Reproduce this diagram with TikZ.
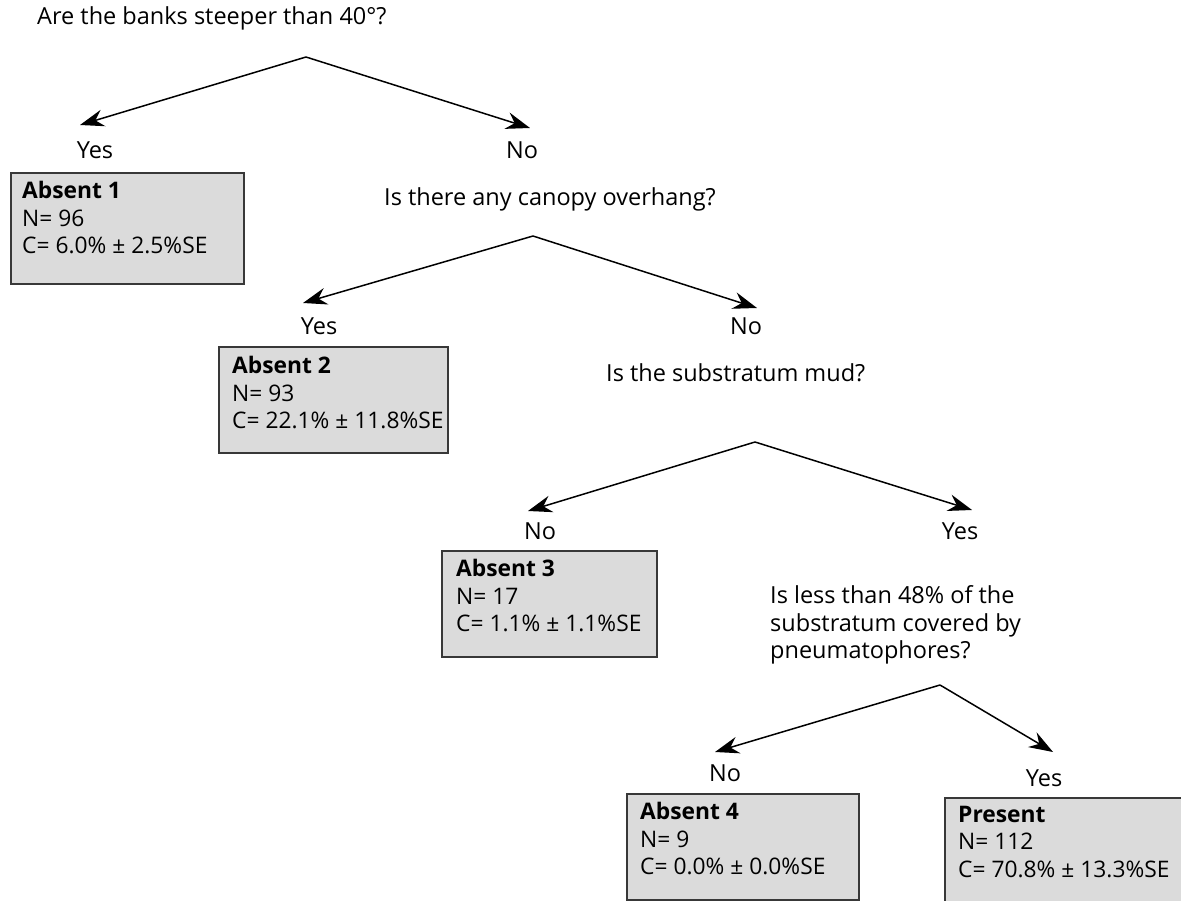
\documentclass[tikz,border=0pt]{standalone}
\usepackage{fontspec}
\setmainfont{Open Sans}
\usetikzlibrary{arrows.meta}
\begin{document}
\begin{tikzpicture}[x=1pt,y=-1pt,
  every node/.style={font=\fontsize{23.5}{27.5}\selectfont, inner sep=0pt},
  q/.style={anchor=west},
  lbl/.style={anchor=center},
  leaf/.style={draw=black!78, line width=2.3pt, fill=black!14, anchor=north west},
  leaftext/.style={anchor=north west, align=left, font=\fontsize{22.8}{27.5}\selectfont},
  qtext/.style={anchor=west, align=left},
  arr/.style={line width=1.5pt, -{Stealth[length=24pt,width=17pt,inset=8pt]}}]
\useasboundingbox (0,0) rectangle (1181,901);
\clip (0,0) rectangle (1181,901);

% level 1
\node[q] (q1) at (37,18) {Are the banks steeper than 40°?};
\coordinate (a1) at (306,57);
\coordinate (t1l) at (80,125);
\coordinate (t1r) at (530,128);
\draw[arr] (a1) -- (t1l);
\draw[arr] (a1) -- (t1r);
\node[lbl] (y1) at (95,150) {Yes};
\node[lbl] (n1) at (522,150) {No};
\node[leaf, minimum width=233, minimum height=111] (b1) at (10,172) {};
\node[leaftext] (b1t) at (22,181) {\textbf{Absent 1}\\N= 96\\C= 6.0\% ± 2.5\%SE};

% level 2
\node[q] (q2) at (384,199) {Is there any canopy overhang?};
\coordinate (a2) at (533,236);
\coordinate (t2l) at (303,303);
\coordinate (t2r) at (757,308);
\draw[arr] (a2) -- (t2l);
\draw[arr] (a2) -- (t2r);
\node[lbl] (y2) at (319,326) {Yes};
\node[lbl] (n2) at (746,326) {No};
\node[leaf, minimum width=229, minimum height=106] (b2) at (218,346) {};
\node[leaftext] (b2t) at (232,356) {\textbf{Absent 2}\\N= 93\\C= 22.1\% ± 11.8\%SE};

% level 3
\node[q] (q3) at (606,373) {Is the substratum mud?};
\coordinate (a3) at (755,442);
\coordinate (t3l) at (528,511);
\coordinate (t3r) at (972,510);
\draw[arr] (a3) -- (t3l);
\draw[arr] (a3) -- (t3r);
\node[lbl] (n3) at (540,531) {No};
\node[lbl] (y3) at (960,531) {Yes};
\node[leaf, minimum width=215, minimum height=106] (b3) at (441,550) {};
\node[leaftext] (b3t) at (456,559) {\textbf{Absent 3}\\N= 17\\C= 1.1\% ± 1.1\%SE};

% level 4
\node[qtext] (q4) at (770,625) {Is less than 48\% of the\\substratum covered by\\pneumatophores?};
\coordinate (a4) at (940,685);
\coordinate (t4l) at (715,752);
\coordinate (t4r) at (1053,752);
\draw[arr] (a4) -- (t4l);
\draw[arr] (a4) -- (t4r);
\node[lbl] (n4) at (725,773) {No};
\node[lbl] (y4) at (1044,778) {Yes};
\node[leaf, minimum width=232, minimum height=106] (b4) at (626,793) {};
\node[leaftext] (b4t) at (640,802) {\textbf{Absent 4}\\N= 9\\C= 0.0\% ± 0.0\%SE};
\node[leaf, minimum width=250, minimum height=120] (b5) at (944,797) {};
\node[leaftext] (b5t) at (958,806) {\textbf{Present}\\N= 112\\C= 70.8\% ± 13.3\%SE};
\end{tikzpicture}
\end{document}
